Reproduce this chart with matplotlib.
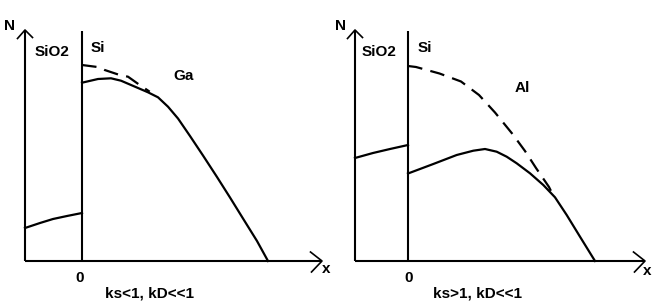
import matplotlib
matplotlib.use("Agg")
import matplotlib.pyplot as plt

plt.rcParams['lines.scale_dashes'] = False
plt.rcParams['font.family'] = ['Liberation Sans', 'DejaVu Sans']

# ---- data (depth x relative to Si/SiO2 interface, concentration N) ----
# Left panel: Ga (ks<1)
ga_oxide_x = [-5.7, -4.2, -2.9, -1.5, 0.0]
ga_oxide_n = [3.3, 3.8, 4.2, 4.5, 4.8]
ga_si_x = [0.0, 1.6, 2.9, 3.9, 5.3, 6.6, 7.6, 8.6, 9.6, 10.8, 12.1, 13.5, 14.8, 16.1, 17.5, 18.6]
ga_si_n = [17.83, 18.2, 18.27, 18.03, 17.43, 16.87, 16.37, 15.43, 14.25, 12.5, 10.55, 8.4, 6.35, 4.25, 2.0, 0.0]
ga_init_x = [0.0, 1.77, 2.27, 3.77, 4.6, 5.77, 6.77]
ga_init_n = [19.6, 19.37, 19.1, 18.6, 18.43, 17.6, 16.93]

# Right panel: Al (ks>1)
al_oxide_x = [-5.3, -3.5, -1.8, 0.0]
al_oxide_n = [10.3, 10.8, 11.2, 11.6]
al_si_x = [0.0, 2.53, 4.87, 6.53, 7.7, 8.87, 9.87, 10.87, 12.2, 13.53, 14.7, 15.87, 17.2, 18.7]
al_si_n = [8.75, 9.7, 10.6, 11.03, 11.2, 10.93, 10.43, 9.77, 8.77, 7.6, 6.37, 4.6, 2.43, 0.0]
al_init_x = [0.0, 0.8, 3.15, 5.3, 7.1, 8.7, 10.45, 11.7, 12.8, 14.1, 14.5]
al_init_n = [19.5, 19.4, 18.75, 17.95, 16.6, 14.85, 12.7, 11.0, 9.3, 7.4, 6.6]

elements = ["Ga", "Al"]
conditions = ["ks<1, kD<<1", "ks>1, kD<<1"]

W, H = 665, 303
fig = plt.figure(figsize=(W / 100, H / 100), dpi=100)

LW = 1.6
FS = 11

def panel(rect, xlim, yaxis_x, xaxis_end, oxide, si, init, elem, elem_pos, cond, cond_x,
          n_x, sio2_x, sio2_y, si_x, x_lbl, zero_x):
    ax = fig.add_axes(rect)
    ax.set_xlim(*xlim)
    ax.set_ylim(-4.2, 26.1)
    ax.axis('off')
    top = 23.1
    k = dict(color='black', lw=1.5, solid_capstyle='butt')
    # axes
    ax.plot([yaxis_x, yaxis_x], [0, top], **k)
    ax.plot([yaxis_x, xaxis_end], [0, 0], **k)
    ax.plot([0, 0], [0, 23.0], **k)
    # arrow heads
    ax.plot([yaxis_x - 0.75, yaxis_x, yaxis_x + 0.75], [top - 0.85, top, top - 0.75], color='black', lw=1.2)
    ax.plot([xaxis_end - 1.15, xaxis_end, xaxis_end - 1.05], [0.9, 0, -1.1], color='black', lw=1.2)
    # curves
    ax.plot(oxide[0], oxide[1], color='black', lw=LW)
    ax.plot(si[0], si[1], color='black', lw=LW)
    ax.plot(init[0], init[1], color='black', lw=LW, dashes=(10.5, 6))
    tk = dict(fontsize=FS, fontweight='bold', va='baseline')
    ax.text(n_x, 23.1, "N", ha='center', **tk)
    ax.text(sio2_x, sio2_y, "SiO2", ha='left', **tk)
    ax.text(si_x, 20.9, "Si", ha='left', **tk)
    ax.text(elem_pos[0], elem_pos[1], elem, ha='left', **tk)
    ax.text(zero_x, -2.1, "0", ha='center', **tk)
    ax.text(x_lbl[0], x_lbl[1], "x", ha='left', **tk)
    ax.text(cond_x, -3.7, cond, ha='left', **tk)

panel([0, 0, 332 / W, 1], (-8.2, 25.0), -5.7, 24.0,
      (ga_oxide_x, ga_oxide_n), (ga_si_x, ga_si_n), (ga_init_x, ga_init_n),
      elements[0], (9.1, 18.1), conditions[0], 2.3,
      -7.25, -4.7, 20.5, 0.9, (24.0, -1.2), -0.25)

panel([332 / W, 0, 333 / W, 1], (-7.6, 25.7), -5.3, 23.7,
      (al_oxide_x, al_oxide_n), (al_si_x, al_si_n), (al_init_x, al_init_n),
      elements[1], (10.7, 16.9), conditions[1], 2.5,
      -6.7, -4.6, 20.5, 1.0, (23.5, -1.4), 0.1)

fig.savefig("out.png", dpi=100, facecolor='white')
